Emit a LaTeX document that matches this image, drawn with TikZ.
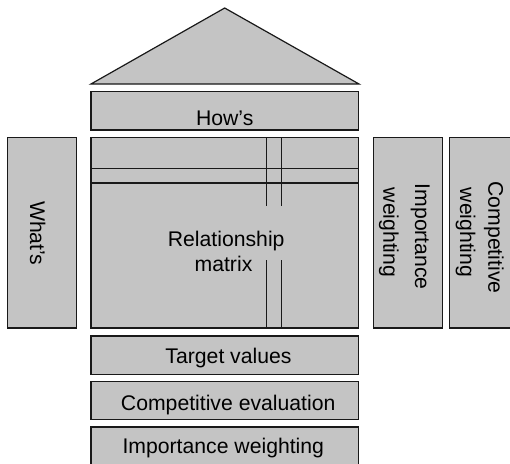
\documentclass[tikz,border=0pt]{standalone}
\usepackage{fontspec}
\setmainfont{Liberation Sans}
\definecolor{boxgray}{RGB}{196,196,196}
\definecolor{edge}{RGB}{25,25,25}
\begin{document}
\begin{tikzpicture}[x=1pt,y=-1pt,
  box/.style={draw=edge,line width=1.2pt,fill=boxgray,inner sep=0pt,outer sep=0pt},
  txt/.style={inner sep=0pt,outer sep=0pt,anchor=base,font=\fontsize{21.2}{25}\selectfont},
  vtxt/.style={txt,rotate=-90},
  rule/.style={draw=edge,line width=1.2pt}]
\useasboundingbox (0,0) rectangle (510,463);
\clip (0,0) rectangle (510,463);
% roof
\coordinate (apex) at (224.7,8);
\coordinate (rl) at (91,84);
\coordinate (rr) at (359,84);
\draw[box] (apex) -- (rr) -- (rl) -- cycle;
% boxes
\node[box,minimum width=267.5pt,minimum height=38.3pt] (how) at (224.75,110.85) {};
\node[box,minimum width=267.5pt,minimum height=190.7pt] (matrix) at (224.75,232.65) {};
\node[box,minimum width=68.6pt,minimum height=190.7pt] (whats) at (42,232.65) {};
\node[box,minimum width=69pt,minimum height=190.7pt] (impw) at (407.8,232.65) {};
\node[box,minimum width=69pt,minimum height=190.7pt] (compw) at (484,232.65) {};
\node[box,minimum width=267.5pt,minimum height=38.3pt] (target) at (224.75,355.15) {};
\node[box,minimum width=267.5pt,minimum height=37.6pt] (compeval) at (224.75,400.5) {};
\node[box,minimum width=267.5pt,minimum height=38pt] (impbot) at (224.75,446) {};
% matrix inner lines
\coordinate (h1l) at (matrix.west |- 0,168.3);
\coordinate (h1r) at (matrix.east |- 0,168.3);
\coordinate (h2l) at (matrix.west |- 0,183);
\coordinate (h2r) at (matrix.east |- 0,183);
\draw[rule] (h1l) -- (h1r);
\draw[rule] (h2l) -- (h2r);
\coordinate (v1t) at (266.7,137.3);
\coordinate (v1m) at (266.7,205.7);
\coordinate (v1n) at (266.7,260);
\coordinate (v1b) at (266.7,328);
\coordinate (v2t) at (281.7,137.3);
\coordinate (v2m) at (281.7,205.7);
\coordinate (v2n) at (281.7,260);
\coordinate (v2b) at (281.7,328);
\draw[rule] (v1t) -- (v1m);
\draw[rule] (v2t) -- (v2m);
\draw[rule] (v1n) -- (v1b);
\draw[rule] (v2n) -- (v2b);
% texts
\node[txt] (thow) at (224.7,125.5) {How’s};
\node[txt] (trel) at (226.2,246.7) {Relationship};
\node[txt] (tmat) at (223.5,271.7) {matrix};
\node[txt] (ttar) at (228.5,363.3) {Target values};
\node[txt] (tce) at (228.2,410) {Competitive evaluation};
\node[txt] (tib) at (223.3,453.3) {Importance weighting};
\node[vtxt] (twh) at (30,233.3) {What’s};
\node[vtxt] (timp1) at (415,236.7) {Importance};
\node[vtxt] (timp2) at (383.3,232.5) {weighting};
\node[vtxt] (tcmp1) at (488.3,237.5) {Competitive};
\node[vtxt] (tcmp2) at (460,232.5) {weighting};
\end{tikzpicture}
\end{document}
